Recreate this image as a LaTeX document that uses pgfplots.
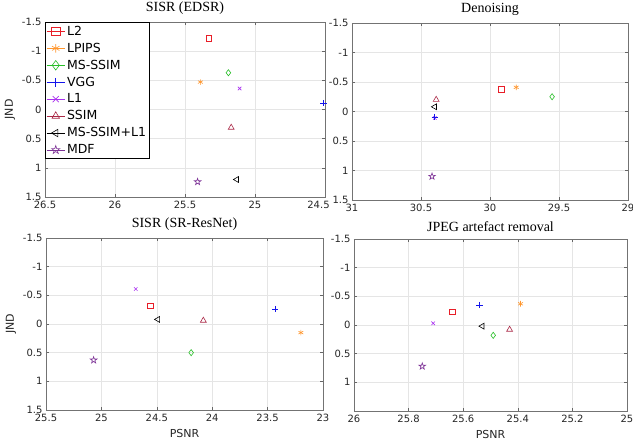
\documentclass[border=0pt]{standalone}
\usepackage{fontspec}
\setmainfont{DejaVu Sans}
\newfontfamily\titlefont{Liberation Serif}
\usepackage{pgfplots}
\pgfplotsset{compat=1.18}
\usetikzlibrary{plotmarks}

% MATLAB-style pentagram outline
\pgfdeclareplotmark{pentagram}{%
  \pgfpathmoveto{\pgfpointpolar{90}{\pgfplotmarksize}}%
  \pgfpathlineto{\pgfpointpolar{126}{0.382\pgfplotmarksize}}%
  \pgfpathlineto{\pgfpointpolar{162}{\pgfplotmarksize}}%
  \pgfpathlineto{\pgfpointpolar{198}{0.382\pgfplotmarksize}}%
  \pgfpathlineto{\pgfpointpolar{234}{\pgfplotmarksize}}%
  \pgfpathlineto{\pgfpointpolar{270}{0.382\pgfplotmarksize}}%
  \pgfpathlineto{\pgfpointpolar{306}{\pgfplotmarksize}}%
  \pgfpathlineto{\pgfpointpolar{342}{0.382\pgfplotmarksize}}%
  \pgfpathlineto{\pgfpointpolar{18}{\pgfplotmarksize}}%
  \pgfpathlineto{\pgfpointpolar{54}{0.382\pgfplotmarksize}}%
  \pgfpathclose
  \pgfusepathqstroke
}

\definecolor{cLtwo}{RGB}{232,30,40}
\definecolor{cLPIPS}{RGB}{255,150,45}
\definecolor{cMSSSIM}{RGB}{40,190,40}
\definecolor{cVGG}{RGB}{20,20,235}
\definecolor{cLone}{RGB}{170,50,240}
\definecolor{cSSIM}{RGB}{170,40,70}
\definecolor{cMSLone}{RGB}{0,0,0}
\definecolor{cMDF}{RGB}{125,50,150}

\pgfplotsset{
  jnd/.style={
    scale only axis,
    x dir=reverse, y dir=reverse,
    ymin=-1.5, ymax=1.5,
    ytick={-1.5,-1,...,1.5},
    grid=major, grid style={black!10, line width=0.4pt},
    axis line style={black!55, line width=0.5pt},
    tick style={black!60, line width=0.5pt},
    tick align=inside, major tick length=3pt,
    tick label style={font=\fontsize{10}{12}\selectfont, text=black!85},
    xticklabel style={yshift=-1pt},
    label style={font=\fontsize{11}{12}\selectfont, text=black!85},
    title style={font=\titlefont\fontsize{14}{16}\selectfont, yshift=-2pt},
    /pgf/number format/assume math mode=true,
    every axis plot/.append style={only marks, line width=0.6pt, mark size=2.8pt},
    legend image code/.code={\draw[mark repeat=2,mark phase=2,sharp plot,mark size=4.3pt]
      plot coordinates {(0pt,0pt)(9pt,0pt)(18pt,0pt)};},
  },
  sLtwo/.style={color=cLtwo, mark=square},
  sLPIPS/.style={color=cLPIPS, mark=asterisk},
  sMSSSIM/.style={color=cMSSSIM, mark=diamond, mark options={scale=1.1}},
  sVGG/.style={color=cVGG, mark=+, mark size=3.1pt},
  sLone/.style={color=cLone, mark=x, mark size=2.5pt},
  sSSIM/.style={color=cSSIM, mark=triangle, mark size=3.4pt},
  sMSLone/.style={color=cMSLone, mark=triangle, mark size=3.4pt, mark options={rotate=90}},
  sMDF/.style={color=cMDF, mark=pentagram, mark size=3.5pt},
}

\begin{document}
\begin{tikzpicture}
\useasboundingbox (0pt,0pt) rectangle (633pt,-441pt);

% top left
\begin{axis}[jnd, at={(45pt,-197pt)}, anchor=south west,
  width=280pt, height=175pt,
  xmin=24.5, xmax=26.5, xtick={24.5,25,...,26.5},
  xticklabels={{\hspace*{-13pt}24.5},25,25.5,26,26.5},
  title={SISR (EDSR)}, ylabel={JND},
  legend style={at={(0,1)}, anchor=north west, draw=black, line width=0.9pt,
    font=\fontsize{12.5}{14}\selectfont, row sep=2.2pt,
    inner xsep=1pt, inner ysep=1.5pt,
    /tikz/every even column/.append style={column sep=1pt}},
  legend cell align=left]
\addplot[sLtwo] coordinates {(25.33,-1.22)};
\addplot[sLPIPS] coordinates {(25.39,-0.47)};
\addplot[sMSSSIM] coordinates {(25.19,-0.63)};
\addplot[sVGG] coordinates {(24.51,-0.11)};
\addplot[sLone] coordinates {(25.11,-0.36)};
\addplot[sSSIM] coordinates {(25.17,0.31)};
\addplot[sMSLone] coordinates {(25.13,1.20)};
\addplot[sMDF] coordinates {(25.41,1.24)};
\legend{L2,LPIPS,MS-SSIM,VGG,L1,SSIM,MS-SSIM+L1,MDF}
\end{axis}

% top right
\begin{axis}[jnd, at={(352pt,-200pt)}, anchor=south west,
  width=276pt, height=177pt,
  xmin=29, xmax=31, xtick={29,29.5,...,31},
  title={Denoising}]
\addplot[sLtwo] coordinates {(29.92,-0.38)};
\addplot[sLPIPS] coordinates {(29.81,-0.41)};
\addplot[sMSSSIM] coordinates {(29.55,-0.25)};
\addplot[sLone] coordinates {(30.40,0.11)};
\addplot[sVGG] coordinates {(30.40,0.09)};
\addplot[sSSIM] coordinates {(30.39,-0.20)};
\addplot[sMSLone] coordinates {(30.40,-0.08)};
\addplot[sMDF] coordinates {(30.42,1.10)};
\end{axis}

% bottom left
\begin{axis}[jnd, at={(46pt,-410pt)}, anchor=south west,
  width=277pt, height=172pt,
  xmin=23, xmax=25.5, xtick={23,23.5,...,25.5},
  title={SISR (SR-ResNet)}, ylabel={JND}, xlabel={PSNR}]
\addplot[sLtwo] coordinates {(24.56,-0.32)};
\addplot[sLPIPS] coordinates {(23.20,0.15)};
\addplot[sMSSSIM] coordinates {(24.19,0.50)};
\addplot[sVGG] coordinates {(23.43,-0.26)};
\addplot[sLone] coordinates {(24.69,-0.61)};
\addplot[sSSIM] coordinates {(24.08,-0.06)};
\addplot[sMSLone] coordinates {(24.49,-0.08)};
\addplot[sMDF] coordinates {(25.07,0.63)};
\end{axis}

% bottom right
\begin{axis}[jnd, at={(354pt,-411pt)}, anchor=south west,
  width=273pt, height=172pt,
  xmin=25, xmax=26, xtick={25,25.2,...,26.01},
  ytick={-1.5,-1,...,1},
  title={JPEG artefact removal}, xlabel={PSNR}]
\addplot[sLtwo] coordinates {(25.64,-0.23)};
\addplot[sLPIPS] coordinates {(25.39,-0.37)};
\addplot[sMSSSIM] coordinates {(25.49,0.18)};
\addplot[sVGG] coordinates {(25.54,-0.35)};
\addplot[sLone] coordinates {(25.71,-0.03)};
\addplot[sSSIM] coordinates {(25.43,0.08)};
\addplot[sMSLone] coordinates {(25.53,0.02)};
\addplot[sMDF] coordinates {(25.75,0.72)};
\end{axis}
\end{tikzpicture}
\end{document}
